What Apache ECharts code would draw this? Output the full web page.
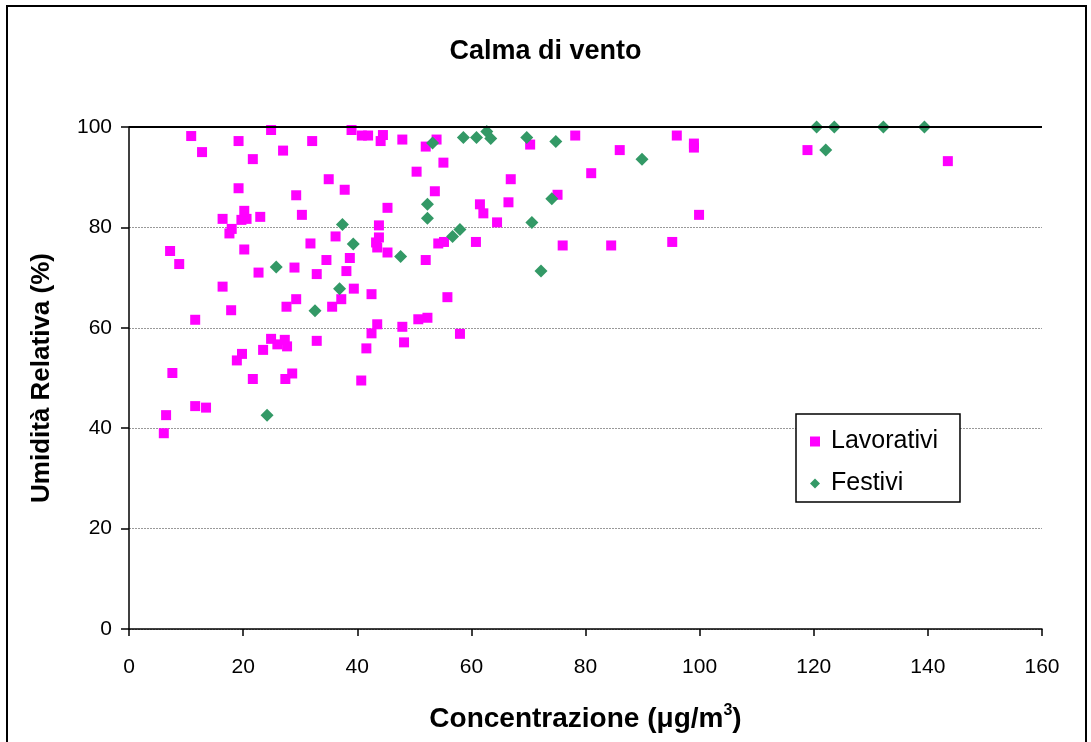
<!DOCTYPE html>
<html>
<head>
<meta charset="utf-8">
<script src="https://cdn.jsdelivr.net/npm/echarts@6/dist/echarts.min.js"></script>
<style>html,body{margin:0;padding:0;background:#fff}#c{width:1091px;height:742px}</style>
</head>
<body>
<div id="c"></div>
<script>
const titleText = 'Calma di vento';
const seriesNames = ['Lavorativi', 'Festivi'];
const xTicks = [0, 20, 40, 60, 80, 100, 120, 140, 160];
const yTicks = [0, 20, 40, 60, 80, 100];

const lavorativi = [
  [10.9, 98.2], [12.8, 95.0], [7.2, 75.3], [8.8, 72.7], [11.6, 61.6], [7.6, 51.0],
  [6.5, 42.6], [6.1, 39.0], [11.6, 44.4], [13.5, 44.1], [19.2, 97.2], [24.9, 99.4],
  [27.0, 95.3], [32.1, 97.2], [21.7, 93.6], [19.2, 87.8], [29.3, 86.4], [20.2, 83.3],
  [16.4, 81.7], [19.7, 81.5], [20.6, 81.7], [23.0, 82.1], [30.3, 82.5], [18.0, 79.7],
  [17.6, 78.8], [20.2, 75.6], [31.8, 76.8], [22.7, 71.0], [29.0, 72.0], [32.9, 70.7],
  [16.4, 68.2], [39.0, 99.4], [40.8, 98.3], [41.9, 98.3], [44.5, 98.4], [44.1, 97.2],
  [47.9, 97.5], [53.9, 97.5], [52.0, 96.1], [55.1, 92.9], [50.4, 91.1], [35.0, 89.6],
  [37.8, 87.5], [53.6, 87.2], [45.3, 83.9], [61.5, 84.6], [62.1, 82.8], [64.5, 81.0],
  [43.8, 80.4], [36.2, 78.2], [43.8, 78.0], [43.3, 77.0], [43.5, 76.0], [45.3, 75.0],
  [54.2, 76.8], [55.2, 77.1], [60.8, 77.1], [34.6, 73.5], [38.7, 73.9], [52.0, 73.5],
  [38.1, 71.3], [39.4, 67.8], [17.9, 63.5], [27.6, 64.2], [29.3, 65.7], [32.9, 57.4],
  [24.9, 57.8], [26.0, 56.7], [27.3, 57.6], [27.7, 56.3], [23.5, 55.6], [19.8, 54.8],
  [18.9, 53.5], [21.7, 49.8], [27.4, 49.8], [28.6, 50.9], [42.5, 66.7], [55.8, 66.1],
  [37.2, 65.7], [35.6, 64.2], [43.5, 60.7], [42.5, 58.9], [47.9, 60.2], [50.7, 61.7],
  [52.3, 62.0], [58.0, 58.8], [41.6, 55.9], [48.2, 57.1], [40.7, 49.5], [70.3, 96.5],
  [78.2, 98.3], [86.0, 95.4], [96.0, 98.3], [81.0, 90.8], [66.9, 89.6], [75.1, 86.5],
  [66.5, 85.0], [76.0, 76.4], [84.5, 76.4], [95.2, 77.1], [99.0, 96.7], [99.0, 95.9],
  [99.9, 82.5], [118.9, 95.4], [143.5, 93.2]
];

const festivi = [
  [25.8, 72.1], [53.2, 96.8], [58.6, 97.9], [60.9, 97.9], [62.7, 99.1], [63.4, 97.7],
  [52.3, 84.6], [52.3, 81.8], [37.4, 80.6], [39.3, 76.7], [47.6, 74.2], [56.7, 78.2],
  [58.0, 79.6], [36.9, 67.8], [32.6, 63.4], [24.2, 42.6], [69.7, 97.9], [74.8, 97.1],
  [89.9, 93.6], [74.1, 85.7], [70.6, 81.0], [72.2, 71.3], [120.5, 100], [123.6, 100],
  [132.2, 100], [139.4, 100], [122.1, 95.4]
];

const FONT = 'Liberation Sans, Arial, sans-serif';
const chart = echarts.init(document.getElementById('c'), null, {renderer: 'canvas'});
chart.setOption({
  animation: false,
  backgroundColor: '#fff',
  graphic: [{
    type: 'rect', silent: true, z: -1,
    shape: {x: 7, y: 6, width: 1079, height: 760},
    style: {fill: 'none', stroke: '#000', lineWidth: 2}
  }],
  title: {
    text: titleText, left: 'center', top: 33,
    textStyle: {fontFamily: FONT, fontSize: 27, fontWeight: 'bold', color: '#000'}
  },
  legend: {
    orient: 'vertical', left: 796, top: 414,
    padding: [15, 22, 6, 14], itemGap: 17,
    borderColor: '#000', borderWidth: 1.5, backgroundColor: '#fff',
    itemWidth: 10, itemHeight: 10,
    textStyle: {fontFamily: FONT, fontSize: 25, color: '#000', padding: [0, 0, 0, 6]},
    data: [{name: seriesNames[0], icon: 'rect'}, {name: seriesNames[1], icon: 'diamond'}]
  },
  grid: {left: 129, right: 49, top: 127, bottom: 113},
  xAxis: {
    type: 'value', min: xTicks[0], max: xTicks[xTicks.length - 1], interval: 20,
    name: '{a|Concentrazione (μg/m}{s|3}{a|)}',
    nameLocation: 'middle', nameGap: 74,
    nameTextStyle: {
      rich: {
        a: {fontFamily: FONT, fontSize: 28, fontWeight: 'bold', color: '#000'},
        s: {fontFamily: FONT, fontSize: 16, fontWeight: 'bold', color: '#000', padding: [0, 0, 16, 0]}
      }
    },
    axisLine: {lineStyle: {color: '#000', width: 1.5}},
    axisTick: {show: true, inside: false, length: 7, lineStyle: {color: '#000', width: 1.5}},
    axisLabel: {fontFamily: FONT, fontSize: 21, color: '#000', margin: 28},
    splitLine: {show: false}
  },
  yAxis: {
    type: 'value', min: yTicks[0], max: yTicks[yTicks.length - 1], interval: 20,
    name: 'Umidità Relativa (%)',
    nameLocation: 'middle', nameGap: 74, nameRotate: 90,
    nameTextStyle: {fontFamily: FONT, fontSize: 26, fontWeight: 'bold', color: '#000'},
    axisLine: {show: true, lineStyle: {color: '#000', width: 1.5}},
    axisTick: {show: true, inside: false, length: 8, lineStyle: {color: '#000', width: 1.5}},
    axisLabel: {fontFamily: FONT, fontSize: 21, color: '#000', margin: 17},
    splitLine: {show: true, lineStyle: {color: '#999', type: [2, 1], width: 1}}
  },
  series: [
    {
      name: seriesNames[0], type: 'scatter', symbol: 'rect', symbolSize: 10,
      itemStyle: {color: '#FF00FF', opacity: 1},
      data: lavorativi,
      markLine: {
        silent: true, symbol: 'none', label: {show: false},
        lineStyle: {color: '#000', type: 'solid', width: 2},
        data: [{yAxis: 100}]
      }
    },
    {
      name: seriesNames[1], type: 'scatter', symbol: 'diamond', symbolSize: [13, 13],
      itemStyle: {color: '#339966', opacity: 1},
      data: festivi
    }
  ]
});
</script>
</body>
</html>
